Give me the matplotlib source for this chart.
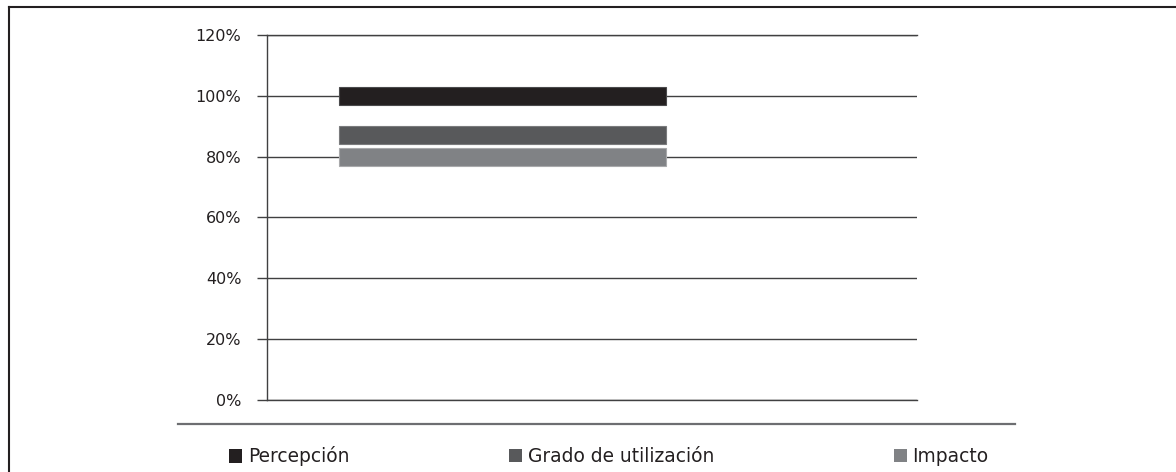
import matplotlib
matplotlib.use("Agg")
import matplotlib.pyplot as plt
from matplotlib.lines import Line2D
from matplotlib.patches import Patch

# ---- data ----
categories = ["Percepción", "Grado de utilización", "Impacto"]
values = [100, 87, 80]
y_ticks = [0, 20, 40, 60, 80, 100, 120]
y_tick_labels = [f"{v}%" for v in y_ticks]

# ---- style ----
bar_colors = ["#231f20", "#58595b", "#808285"]
edge_colors = ["#4a4a4c", "#7a7b7d", "#a8a9ab"]
grid_color = "#404041"
text_color = "#231f20"

W, H = 1176, 472
fig = plt.figure(figsize=(W / 100, H / 100), dpi=100)
fig.patch.set_facecolor("white")

ax_left, ax_right, ax_top, ax_bottom = 266.7, 917.0, 35.0, 400.0
ax = fig.add_axes([ax_left / W, 1 - ax_bottom / H,
                   (ax_right - ax_left) / W, (ax_bottom - ax_top) / H])

bar_left = 0.1116
bar_width = 0.502
bar_thickness = 6
for val, col, ec in zip(values, bar_colors, edge_colors):
    ax.barh(val, bar_width, left=bar_left, height=bar_thickness,
            color=col, edgecolor=ec, linewidth=0.8, zorder=3)

ax.set_xlim(0, 1)
ax.set_ylim(0, 120)
ax.set_yticks(y_ticks)
ax.set_yticklabels(y_tick_labels, fontsize=11.5, color=text_color)
ax.set_xticks([])
ax.set_axisbelow(True)
ax.yaxis.grid(True, color=grid_color, linewidth=1.0)
ax.tick_params(axis="y", length=7.2, width=1.0, color=grid_color, pad=11)
for side in ["right"]:
    ax.spines[side].set_visible(False)
for side in ["left", "top", "bottom"]:
    ax.spines[side].set_color(grid_color)
    ax.spines[side].set_linewidth(1.0)

# separator line above legend
fig.add_artist(Line2D([178 / W, 1015 / W], [1 - 424 / H, 1 - 424 / H],
                      color="#6d6e71", linewidth=1.6))
# partial frame (left + top)
fig.add_artist(Line2D([9 / W, 9 / W], [0, 1 - 7 / H], color=text_color, linewidth=1.5))
fig.add_artist(Line2D([9 / W, 1], [1 - 7 / H, 1 - 7 / H], color=text_color, linewidth=1.5))

# legend entries
legend_x = [229.3, 509.0, 894.0]
legend_y = 1 - 456.5 / H
for cat, col, lx in zip(categories, bar_colors, legend_x):
    fig.legend(handles=[Patch(facecolor=col, edgecolor="none", label=cat)],
               loc="center left", bbox_to_anchor=(lx / W, legend_y),
               frameon=False, fontsize=13.4, handlelength=0.7, handleheight=0.7,
               handletextpad=0.3, borderpad=0, borderaxespad=0,
               labelcolor=text_color)

fig.savefig("out.png", dpi=100)
